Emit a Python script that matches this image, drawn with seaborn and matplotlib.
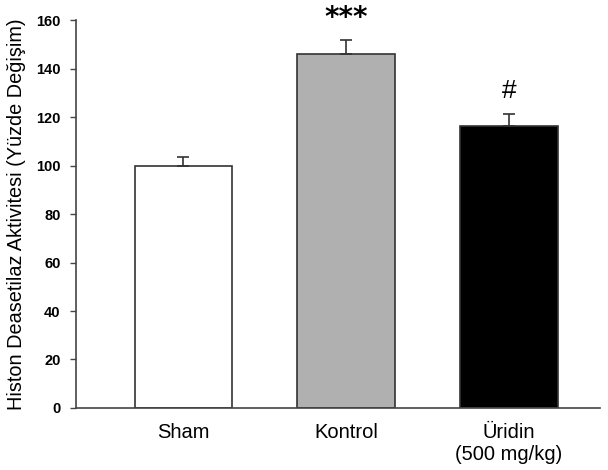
import matplotlib
matplotlib.use("Agg")
import matplotlib.pyplot as plt
import seaborn as sns
import pandas as pd

categories = ["Sham", "Kontrol", "Üridin\n(500 mg/kg)"]
values = [100.0, 146.0, 116.5]
errors = [3.7, 5.8, 4.8]
bar_colors = ["#ffffff", "#b0b0b0", "#000000"]
annotations = ["", "***", "#"]
yticks = [0, 20, 40, 60, 80, 100, 120, 140, 160]

sns.set_style("ticks")
plt.rcParams["font.family"] = ["Liberation Sans", "DejaVu Sans"]
plt.rcParams["text.color"] = "black"
plt.rcParams["axes.labelcolor"] = "black"
plt.rcParams["xtick.color"] = "black"
plt.rcParams["ytick.color"] = "black"

df = pd.DataFrame({"group": categories, "value": values})

fig = plt.figure(figsize=(6.08, 4.70), dpi=100)
ax = fig.add_axes([0.125, 0.132, 0.862, 0.825])

sns.barplot(data=df, x="group", y="value", hue="group", palette=bar_colors,
            legend=False, width=0.6, edgecolor="#333333", linewidth=1.2,
            errorbar=None, ax=ax)

xs = list(range(len(categories)))
ax.errorbar(xs, values, yerr=[[0]*len(errors), errors], fmt="none",
            ecolor="#333333", elinewidth=1.2, capsize=4, capthick=1.2, zorder=1)

for x, v, e, a in zip(xs, values, errors, annotations):
    if a == "***":
        ax.text(x, v + e + 9.0, a, ha="center", va="center",
                fontsize=20, fontweight="bold", family="DejaVu Sans",
                clip_on=False)
    elif a:
        ax.text(x, v + e + 9.5, a, ha="center", va="center",
                fontsize=19, clip_on=False)

ax.set_ylim(0, 160)
ax.set_xlim(-0.66, 2.56)
ax.set_yticks(yticks)
ax.set_yticklabels([str(t) for t in yticks], fontsize=10.5, fontweight="bold")
ax.tick_params(axis="x", length=0, labelsize=14.5, pad=11)
ax.tick_params(axis="y", length=4, width=1, color="#444444", direction="out", pad=7)
ax.set_xlabel("")
ax.set_ylabel("Histon Deasetilaz Aktivitesi (Yüzde Değişim)", fontsize=14.3, labelpad=7)
for s in ["top", "right"]:
    ax.spines[s].set_visible(False)
for s in ["left", "bottom"]:
    ax.spines[s].set_color("#444444")
    ax.spines[s].set_linewidth(1.2)

fig.savefig("out.png", dpi=100)
